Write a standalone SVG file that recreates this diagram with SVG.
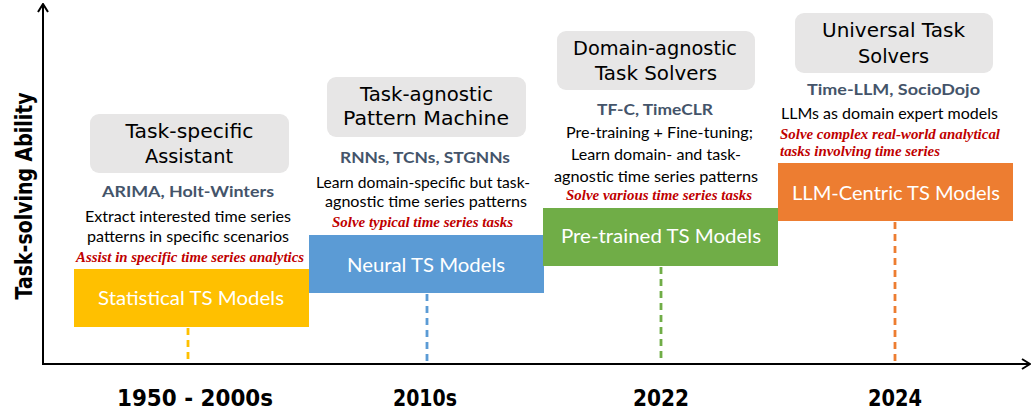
<svg xmlns="http://www.w3.org/2000/svg" width="1032" height="413" viewBox="0 0 1032 413">
<defs>
<style>
.bg{fill:#ffffff}
.axis{stroke:#000;stroke-width:2;fill:none}
.title{fill:#e7e6e6}
.tt{font-family:"DejaVu Sans",sans-serif;font-size:19px;fill:#000;text-anchor:middle}
.model{font-family:Lato,"Open Sans",sans-serif;font-size:15.5px;font-weight:bold;fill:#44546a;text-anchor:middle}
.desc{font-family:Lato,"Open Sans",sans-serif;font-size:15px;fill:#000;text-anchor:middle}
.red{font-family:"Liberation Serif",serif;font-size:14.5px;font-weight:bold;font-style:italic;fill:#c00000;text-anchor:middle}
.lbl{font-family:Lato,"Open Sans",sans-serif;font-size:18.5px;fill:#fff;text-anchor:middle}
.year{font-family:"DejaVu Sans",sans-serif;font-size:23px;font-weight:bold;fill:#000;text-anchor:middle}
.ylab{font-family:"DejaVu Sans",sans-serif;font-size:23px;font-weight:bold;fill:#000;text-anchor:middle}
.dash{stroke-width:2.8;stroke-dasharray:7 5;fill:none}
</style>
<marker id="arr" viewBox="0 0 10 12" refX="9" refY="6" markerWidth="10" markerHeight="12" markerUnits="userSpaceOnUse" orient="auto">
<path d="M1,1 L9,6 L1,11" fill="none" stroke="#000" stroke-width="2"/>
</marker>
</defs>
<rect class="bg" x="0" y="0" width="1032" height="413"/>
<g id="connectors">
<line class="axis" x1="43" y1="364" x2="43" y2="4" marker-end="url(#arr)"/>
<line class="axis" x1="42" y1="364" x2="1030" y2="364" marker-end="url(#arr)"/>
<line class="dash" stroke="#ffc000" x1="188" y1="328" x2="188" y2="362"/>
<line class="dash" stroke="#5b9bd5" x1="427" y1="294" x2="427" y2="363"/>
<line class="dash" stroke="#70ad47" x1="661" y1="267" x2="661" y2="363"/>
<line class="dash" stroke="#ed7d31" x1="895" y1="222" x2="895" y2="363"/>
</g>
<g id="y-axis-label">
<text class="ylab" transform="translate(32,196) rotate(-90)" textLength="207" lengthAdjust="spacingAndGlyphs">Task-solving Ability</text>
</g>
<g id="stage1">
<rect class="title" x="90" y="114" width="199" height="59" rx="9"/>
<text class="tt" x="189.5" y="138" textLength="128" lengthAdjust="spacingAndGlyphs">Task-specific</text>
<text class="tt" x="189" y="163" textLength="88" lengthAdjust="spacingAndGlyphs">Assistant</text>
<text class="model" x="188" y="197" textLength="172" lengthAdjust="spacingAndGlyphs">ARIMA, Holt-Winters</text>
<text class="desc" x="188" y="222" textLength="206" lengthAdjust="spacingAndGlyphs">Extract interested time series</text>
<text class="desc" x="188" y="242" textLength="202" lengthAdjust="spacingAndGlyphs">patterns in specific scenarios</text>
<text class="red" x="190" y="262" textLength="228" lengthAdjust="spacingAndGlyphs">Assist in specific time series analytics</text>
<rect x="74" y="269" width="235" height="58" fill="#ffc000"/>
<text class="lbl" x="191" y="305" textLength="186" lengthAdjust="spacingAndGlyphs">Statistical TS Models</text>
</g>
<g id="stage2">
<rect class="title" x="327" y="77" width="199" height="60" rx="9"/>
<text class="tt" x="426.5" y="101" textLength="133" lengthAdjust="spacingAndGlyphs">Task-agnostic</text>
<text class="tt" x="426" y="125" textLength="166" lengthAdjust="spacingAndGlyphs">Pattern Machine</text>
<text class="model" x="425" y="163" textLength="170" lengthAdjust="spacingAndGlyphs">RNNs, TCNs, STGNNs</text>
<text class="desc" x="423" y="188" textLength="214" lengthAdjust="spacingAndGlyphs">Learn domain-specific but task-</text>
<text class="desc" x="426" y="207" textLength="202" lengthAdjust="spacingAndGlyphs">agnostic time series patterns</text>
<text class="red" x="422.5" y="227" textLength="181" lengthAdjust="spacingAndGlyphs">Solve typical time series tasks</text>
<rect x="309" y="235" width="235" height="58" fill="#5b9bd5"/>
<text class="lbl" x="426" y="272" textLength="158" lengthAdjust="spacingAndGlyphs">Neural TS Models</text>
</g>
<g id="stage3">
<rect class="title" x="557" y="31" width="198" height="59" rx="9"/>
<text class="tt" x="655" y="55" textLength="164" lengthAdjust="spacingAndGlyphs">Domain-agnostic</text>
<text class="tt" x="656" y="80" textLength="122" lengthAdjust="spacingAndGlyphs">Task Solvers</text>
<text class="model" x="655" y="115" textLength="116" lengthAdjust="spacingAndGlyphs">TF-C, TimeCLR</text>
<text class="desc" x="659.5" y="138" textLength="187" lengthAdjust="spacingAndGlyphs">Pre-training + Fine-tuning;</text>
<text class="desc" x="656" y="160" textLength="170" lengthAdjust="spacingAndGlyphs">Learn domain- and task-</text>
<text class="desc" x="656" y="182" textLength="204" lengthAdjust="spacingAndGlyphs">agnostic time series patterns</text>
<text class="red" x="659" y="200" textLength="186" lengthAdjust="spacingAndGlyphs">Solve various time series tasks</text>
<rect x="543" y="208" width="235" height="58" fill="#70ad47"/>
<text class="lbl" x="661" y="243" textLength="200" lengthAdjust="spacingAndGlyphs">Pre-trained TS Models</text>
</g>
<g id="stage4">
<rect class="title" x="795" y="13" width="198" height="60" rx="9"/>
<text class="tt" x="893.5" y="37" textLength="143" lengthAdjust="spacingAndGlyphs">Universal Task</text>
<text class="tt" x="893.5" y="63" textLength="71" lengthAdjust="spacingAndGlyphs">Solvers</text>
<text class="model" x="893.5" y="95" textLength="173" lengthAdjust="spacingAndGlyphs">Time-LLM, SocioDojo</text>
<text class="desc" x="889.5" y="119" textLength="217" lengthAdjust="spacingAndGlyphs">LLMs as domain expert models</text>
<text class="red" x="780" y="139" style="text-anchor:start" textLength="220" lengthAdjust="spacingAndGlyphs">Solve complex real-world analytical</text>
<text class="red" x="780" y="156" style="text-anchor:start" textLength="160" lengthAdjust="spacingAndGlyphs">tasks involving time series</text>
<rect x="778" y="163" width="235" height="58" fill="#ed7d31"/>
<text class="lbl" x="896" y="200" textLength="208" lengthAdjust="spacingAndGlyphs">LLM-Centric TS Models</text>
</g>
<g id="years">
<text class="year" x="195" y="406" textLength="156" lengthAdjust="spacingAndGlyphs">1950 - 2000s</text>
<text class="year" x="425" y="406" textLength="64" lengthAdjust="spacingAndGlyphs">2010s</text>
<text class="year" x="661" y="406" textLength="56" lengthAdjust="spacingAndGlyphs">2022</text>
<text class="year" x="895" y="406" textLength="54" lengthAdjust="spacingAndGlyphs">2024</text>
</g>
</svg>
